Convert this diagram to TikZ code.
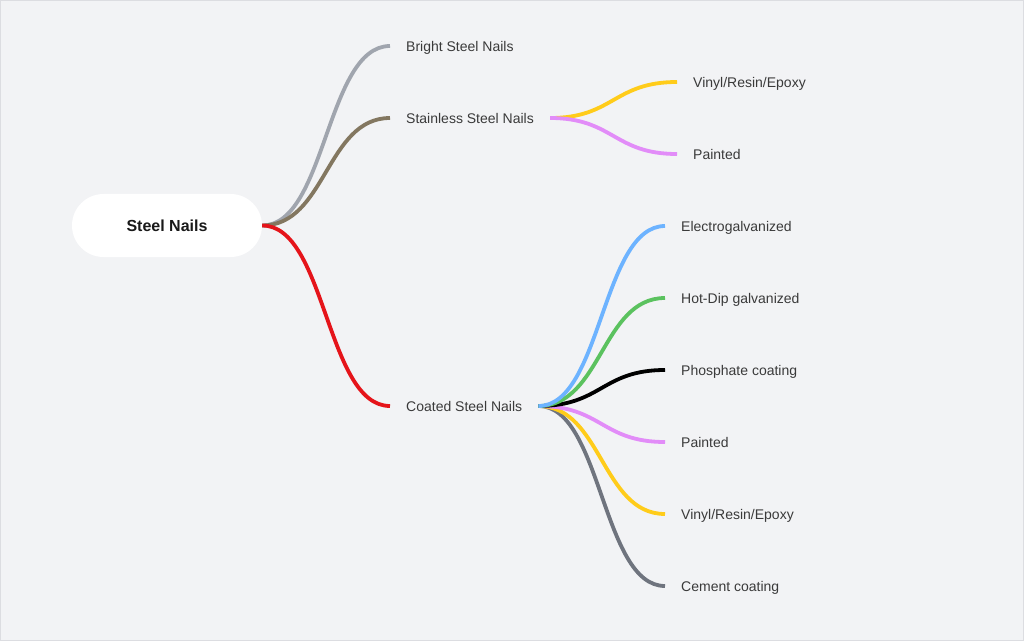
\documentclass[tikz,border=0pt]{standalone}
\usepackage{fontspec}
\setmainfont{Liberation Sans}
\usetikzlibrary{calc}
\definecolor{bg}{HTML}{F2F3F5}
\definecolor{frame}{HTML}{DCDDE1}
\definecolor{txt}{HTML}{3A3A3A}
\definecolor{cbright}{HTML}{A0A5AE}
\definecolor{cstain}{HTML}{837760}
\definecolor{ccoat}{HTML}{E5141A}
\definecolor{cyellow}{HTML}{FFCC1A}
\definecolor{cviolet}{HTML}{E28CF8}
\definecolor{cblue}{HTML}{6DB3FF}
\definecolor{cgreen}{HTML}{5BC25F}
\definecolor{ccement}{HTML}{6F747E}
\tikzset{curve/.style={to path={let \p1=(\tikztostart),\p2=(\tikztotarget) in
  .. controls ({(\x1+\x2)/2},\y1) and ({(\x1+\x2)/2},\y2) .. (\p2)}}}

\begin{document}
\begin{tikzpicture}[x=1pt,y=1pt,
  leaf/.style={anchor=west,inner xsep=16pt,inner ysep=0pt,text height=11pt,text depth=0pt,
    text=txt,font=\fontsize{14}{16}\selectfont},
  branch/.style={line width=3.8pt}]
\fill[bg](0,0)rectangle(1024,641);
\draw[frame,line width=1pt](0.5,0.5)rectangle(1023.5,640.5);
\useasboundingbox(0,0)rectangle(1024,641);
% root
\node[fill=white,minimum width=190pt,minimum height=63pt,rounded corners=31.5pt,
  font=\bfseries\fontsize{16}{18}\selectfont,text=black!90](root)at(167,415.5){Steel Nails};
% first level
\node[leaf](bright)at(390,595){Bright Steel Nails};
\node[leaf](stain)at(390,523){Stainless Steel Nails};
\node[leaf](coat)at(390,235){Coated Steel Nails};
% stainless children
\node[leaf](vinylA)at(677,559){Vinyl/Resin/Epoxy};
\node[leaf](paintA)at(677,487){Painted};
% coated children
\node[leaf](electro)at(665,415){Electrogalvanized};
\node[leaf](hotdip)at(665,343){Hot-Dip galvanized};
\node[leaf](phos)at(665,271){Phosphate coating};
\node[leaf](paintB)at(665,199){Painted};
\node[leaf](vinylB)at(665,127){Vinyl/Resin/Epoxy};
\node[leaf](cement)at(665,55){Cement coating};
% connectors
\draw[branch,cbright](root.east)to[curve](bright.west);
\draw[branch,cstain](root.east)to[curve](stain.west);
\draw[branch,ccoat](root.east)to[curve](coat.west);
\draw[branch,cyellow](stain.east)to[curve](vinylA.west);
\draw[branch,cviolet](stain.east)to[curve](paintA.west);
\draw[branch,ccement](coat.east)to[curve](cement.west);
\draw[branch,cyellow](coat.east)to[curve](vinylB.west);
\draw[branch,cviolet](coat.east)to[curve](paintB.west);
\draw[branch,black](coat.east)to[curve](phos.west);
\draw[branch,cgreen](coat.east)to[curve](hotdip.west);
\draw[branch,cblue](coat.east)to[curve](electro.west);
\end{tikzpicture}
\end{document}
